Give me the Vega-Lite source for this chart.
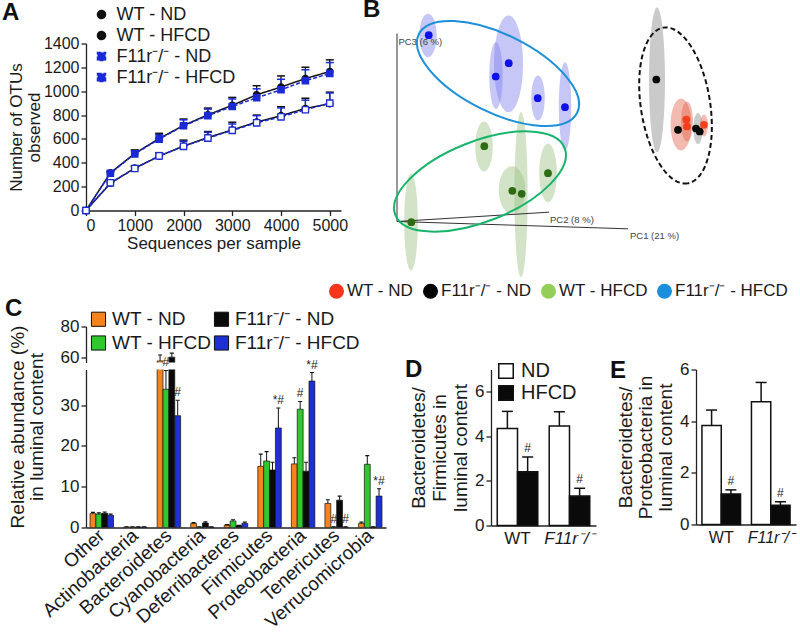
{
  "$schema": "https://vega.github.io/schema/vega-lite/v6.json",
  "padding": {"left": 2, "top": -2.5, "right": 0, "bottom": 0},
  "background": "white",
  "config": {
    "font": "Liberation Sans",
    "view": {"stroke": null},
    "axis": {"domainColor": "#222", "domainWidth": 1.3, "tickColor": "#222", "tickWidth": 1.3, "tickSize": 5, "labelColor": "#1a1a1a", "titleColor": "#1a1a1a", "labelFont": "Liberation Sans", "titleFont": "Liberation Sans", "titleFontWeight": "normal", "grid": false, "labelFontSize": 16, "titleFontSize": 17},
    "legend": {"labelFont": "Liberation Sans", "labelColor": "#1a1a1a", "padding": 0},
    "title": {"font": "Liberation Sans", "color": "#111"}
  },
  "datasets": {
    "otu": [
      {"group": "WT - ND", "seqs": 0, "otus": 0, "top": 0},
      {"group": "WT - ND", "seqs": 500, "otus": 315, "top": 328},
      {"group": "WT - ND", "seqs": 1000, "otus": 478, "top": 508},
      {"group": "WT - ND", "seqs": 1500, "otus": 603, "top": 647},
      {"group": "WT - ND", "seqs": 2000, "otus": 713, "top": 767},
      {"group": "WT - ND", "seqs": 2500, "otus": 802, "top": 859},
      {"group": "WT - ND", "seqs": 3000, "otus": 882, "top": 948},
      {"group": "WT - ND", "seqs": 3500, "otus": 970, "top": 1046},
      {"group": "WT - ND", "seqs": 4000, "otus": 1035, "top": 1128},
      {"group": "WT - ND", "seqs": 4500, "otus": 1106, "top": 1201},
      {"group": "WT - ND", "seqs": 5000, "otus": 1165, "top": 1263},
      {"group": "WT - HFCD", "seqs": 0, "otus": 0, "top": 0},
      {"group": "WT - HFCD", "seqs": 500, "otus": 228, "top": 240},
      {"group": "WT - HFCD", "seqs": 1000, "otus": 355, "top": 372},
      {"group": "WT - HFCD", "seqs": 1500, "otus": 455, "top": 485},
      {"group": "WT - HFCD", "seqs": 2000, "otus": 540, "top": 590},
      {"group": "WT - HFCD", "seqs": 2500, "otus": 612, "top": 662},
      {"group": "WT - HFCD", "seqs": 3000, "otus": 675, "top": 740},
      {"group": "WT - HFCD", "seqs": 3500, "otus": 742, "top": 800},
      {"group": "WT - HFCD", "seqs": 4000, "otus": 795, "top": 870},
      {"group": "WT - HFCD", "seqs": 4500, "otus": 855, "top": 941},
      {"group": "WT - HFCD", "seqs": 5000, "otus": 895, "top": 992},
      {"group": "F11r⁻/⁻ - ND", "seqs": 0, "otus": 0, "top": 0},
      {"group": "F11r⁻/⁻ - ND", "seqs": 500, "otus": 312, "top": 325},
      {"group": "F11r⁻/⁻ - ND", "seqs": 1000, "otus": 475, "top": 500},
      {"group": "F11r⁻/⁻ - ND", "seqs": 1500, "otus": 598, "top": 635},
      {"group": "F11r⁻/⁻ - ND", "seqs": 2000, "otus": 710, "top": 760},
      {"group": "F11r⁻/⁻ - ND", "seqs": 2500, "otus": 795, "top": 850},
      {"group": "F11r⁻/⁻ - ND", "seqs": 3000, "otus": 872, "top": 935},
      {"group": "F11r⁻/⁻ - ND", "seqs": 3500, "otus": 945, "top": 1020},
      {"group": "F11r⁻/⁻ - ND", "seqs": 4000, "otus": 1012, "top": 1100},
      {"group": "F11r⁻/⁻ - ND", "seqs": 4500, "otus": 1088, "top": 1180},
      {"group": "F11r⁻/⁻ - ND", "seqs": 5000, "otus": 1148, "top": 1240},
      {"group": "F11r⁻/⁻ - HFCD", "seqs": 0, "otus": 0, "top": 0},
      {"group": "F11r⁻/⁻ - HFCD", "seqs": 500, "otus": 232, "top": 244},
      {"group": "F11r⁻/⁻ - HFCD", "seqs": 1000, "otus": 352, "top": 368},
      {"group": "F11r⁻/⁻ - HFCD", "seqs": 1500, "otus": 458, "top": 480},
      {"group": "F11r⁻/⁻ - HFCD", "seqs": 2000, "otus": 538, "top": 580},
      {"group": "F11r⁻/⁻ - HFCD", "seqs": 2500, "otus": 607, "top": 655},
      {"group": "F11r⁻/⁻ - HFCD", "seqs": 3000, "otus": 672, "top": 725},
      {"group": "F11r⁻/⁻ - HFCD", "seqs": 3500, "otus": 735, "top": 795},
      {"group": "F11r⁻/⁻ - HFCD", "seqs": 4000, "otus": 785, "top": 860},
      {"group": "F11r⁻/⁻ - HFCD", "seqs": 4500, "otus": 845, "top": 925},
      {"group": "F11r⁻/⁻ - HFCD", "seqs": 5000, "otus": 900, "top": 985}
    ],
    "pcaPoints": [
      {"group": "F11r⁻/⁻ - HFCD", "pc_x": 8.18, "pc_y": 46.58},
      {"group": "F11r⁻/⁻ - HFCD", "pc_x": 28.18, "pc_y": 39.58},
      {"group": "F11r⁻/⁻ - HFCD", "pc_x": 24.93, "pc_y": 36.25},
      {"group": "F11r⁻/⁻ - HFCD", "pc_x": 35.43, "pc_y": 30.83},
      {"group": "F11r⁻/⁻ - HFCD", "pc_x": 42.25, "pc_y": 28.58},
      {"group": "WT - HFCD", "pc_x": 22.08, "pc_y": 18.83},
      {"group": "WT - HFCD", "pc_x": 38.0, "pc_y": 12.08},
      {"group": "WT - HFCD", "pc_x": 29.08, "pc_y": 7.68},
      {"group": "WT - HFCD", "pc_x": 31.43, "pc_y": 6.93},
      {"group": "WT - HFCD", "pc_x": 3.83, "pc_y": -0.18},
      {"group": "F11r⁻/⁻ - ND", "pc_x": 65.08, "pc_y": 35.5},
      {"group": "F11r⁻/⁻ - ND", "pc_x": 70.5, "pc_y": 22.93},
      {"group": "F11r⁻/⁻ - ND", "pc_x": 75.93, "pc_y": 22.5},
      {"group": "F11r⁻/⁻ - ND", "pc_x": 75.0, "pc_y": 23.25},
      {"group": "WT - ND", "pc_x": 72.58, "pc_y": 25.5},
      {"group": "WT - ND", "pc_x": 72.75, "pc_y": 23.75},
      {"group": "WT - ND", "pc_x": 77.0, "pc_y": 24.18}
    ],
    "pcaEll": [
      {"group": "F11r⁻/⁻ - HFCD", "pc_x": 8, "pc_y": 46.5, "spread": 10.85, "aspect": 0.4},
      {"group": "F11r⁻/⁻ - HFCD", "pc_x": 28.13, "pc_y": 39.43, "spread": 24.2, "aspect": 0.3},
      {"group": "F11r⁻/⁻ - HFCD", "pc_x": 25, "pc_y": 36.5, "spread": 16.7, "aspect": 0.2},
      {"group": "F11r⁻/⁻ - HFCD", "pc_x": 35.5, "pc_y": 30.88, "spread": 11.25, "aspect": 0.3},
      {"group": "F11r⁻/⁻ - HFCD", "pc_x": 42.25, "pc_y": 28.75, "spread": 22.1, "aspect": 0.14},
      {"group": "WT - HFCD", "pc_x": 22, "pc_y": 18.75, "spread": 12.5, "aspect": 0.35},
      {"group": "WT - HFCD", "pc_x": 38, "pc_y": 12.13, "spread": 14.6, "aspect": 0.3},
      {"group": "WT - HFCD", "pc_x": 29, "pc_y": 7.88, "spread": 11.9, "aspect": 0.56},
      {"group": "WT - HFCD", "pc_x": 31.25, "pc_y": 6.75, "spread": 41.25, "aspect": 0.08},
      {"group": "WT - HFCD", "pc_x": 3.75, "pc_y": -0.13, "spread": 24.25, "aspect": 0.14},
      {"group": "F11r⁻/⁻ - ND", "pc_x": 65.25, "pc_y": 35.38, "spread": 36.25, "aspect": 0.11},
      {"group": "F11r⁻/⁻ - ND", "pc_x": 75.5, "pc_y": 23.25, "spread": 7.75, "aspect": 0.3},
      {"group": "WT - ND", "pc_x": 71.25, "pc_y": 24.25, "spread": 13, "aspect": 0.4},
      {"group": "WT - ND", "pc_x": 72.75, "pc_y": 25, "spread": 10, "aspect": 0.3},
      {"group": "WT - ND", "pc_x": 77, "pc_y": 24, "spread": 5.5, "aspect": 0.35}
    ],
    "pcaGroups": [
      {"group": "F11r⁻/⁻ - HFCD", "pc_x": 25.5, "pc_y": 37, "major": 44.2, "tilt": 26.4},
      {"group": "WT - HFCD", "pc_x": 21, "pc_y": 10, "major": 45.5, "tilt": 338.35},
      {"group": "ND", "pc_x": 69.88, "pc_y": 29, "major": 39.4, "tilt": 81.2}
    ],
    "pcaAxes": [
      {"axis": "PC3 (6 %)", "x0": 0.25, "y0": 0, "x1": 0.25, "y1": 47, "lx": 0.6, "ly": 45},
      {"axis": "PC2 (8 %)", "x0": 0.25, "y0": 0, "x1": 38.25, "y1": 2.33, "lx": 38.5, "ly": 0.5},
      {"axis": "PC1 (21 %)", "x0": 0.25, "y0": 0, "x1": 58, "y1": -1.83, "lx": 58.5, "ly": -3.5}
    ],
    "phyla": [
      {"phylum": "Other", "group": "WT - ND", "pct": 3.4, "top": 3.7, "sig": ""},
      {"phylum": "Other", "group": "WT - HFCD", "pct": 3.3, "top": 3.6, "sig": ""},
      {"phylum": "Other", "group": "F11r⁻/⁻ - ND", "pct": 3.5, "top": 3.8, "sig": ""},
      {"phylum": "Other", "group": "F11r⁻/⁻ - HFCD", "pct": 3.0, "top": 3.3, "sig": ""},
      {"phylum": "Actinobacteria", "group": "WT - ND", "pct": 0.1, "top": 0.15, "sig": ""},
      {"phylum": "Actinobacteria", "group": "WT - HFCD", "pct": 0.1, "top": 0.15, "sig": ""},
      {"phylum": "Actinobacteria", "group": "F11r⁻/⁻ - ND", "pct": 0.1, "top": 0.15, "sig": ""},
      {"phylum": "Actinobacteria", "group": "F11r⁻/⁻ - HFCD", "pct": 0.1, "top": 0.15, "sig": ""},
      {"phylum": "Bacteroidetes", "group": "WT - ND", "pct": 57.5, "top": 61.4, "sig": ""},
      {"phylum": "Bacteroidetes", "group": "WT - HFCD", "pct": 33.9, "top": 38.5, "sig": "#"},
      {"phylum": "Bacteroidetes", "group": "F11r⁻/⁻ - ND", "pct": 60.0, "top": 62.6, "sig": ""},
      {"phylum": "Bacteroidetes", "group": "F11r⁻/⁻ - HFCD", "pct": 27.4, "top": 31.2, "sig": "#"},
      {"phylum": "Cyanobacteria", "group": "WT - ND", "pct": 1.0, "top": 1.2, "sig": ""},
      {"phylum": "Cyanobacteria", "group": "WT - HFCD", "pct": 0.1, "top": 0.15, "sig": ""},
      {"phylum": "Cyanobacteria", "group": "F11r⁻/⁻ - ND", "pct": 1.1, "top": 1.4, "sig": ""},
      {"phylum": "Cyanobacteria", "group": "F11r⁻/⁻ - HFCD", "pct": 0.1, "top": 0.15, "sig": ""},
      {"phylum": "Deferribacteres", "group": "WT - ND", "pct": 0.6, "top": 0.7, "sig": ""},
      {"phylum": "Deferribacteres", "group": "WT - HFCD", "pct": 1.6, "top": 1.9, "sig": ""},
      {"phylum": "Deferribacteres", "group": "F11r⁻/⁻ - ND", "pct": 0.4, "top": 0.5, "sig": ""},
      {"phylum": "Deferribacteres", "group": "F11r⁻/⁻ - HFCD", "pct": 1.0, "top": 1.3, "sig": ""},
      {"phylum": "Firmicutes", "group": "WT - ND", "pct": 15.0, "top": 18.0, "sig": ""},
      {"phylum": "Firmicutes", "group": "WT - HFCD", "pct": 16.3, "top": 18.6, "sig": ""},
      {"phylum": "Firmicutes", "group": "F11r⁻/⁻ - ND", "pct": 14.1, "top": 16.0, "sig": ""},
      {"phylum": "Firmicutes", "group": "F11r⁻/⁻ - HFCD", "pct": 24.4, "top": 29.3, "sig": "*#"},
      {"phylum": "Proteobacteria", "group": "WT - ND", "pct": 15.6, "top": 17.1, "sig": ""},
      {"phylum": "Proteobacteria", "group": "WT - HFCD", "pct": 29.0, "top": 30.9, "sig": "#"},
      {"phylum": "Proteobacteria", "group": "F11r⁻/⁻ - ND", "pct": 13.8, "top": 16.0, "sig": ""},
      {"phylum": "Proteobacteria", "group": "F11r⁻/⁻ - HFCD", "pct": 35.9, "top": 38.0, "sig": "*#"},
      {"phylum": "Tenericutes", "group": "WT - ND", "pct": 5.9, "top": 6.8, "sig": ""},
      {"phylum": "Tenericutes", "group": "WT - HFCD", "pct": 0.1, "top": 0.15, "sig": "#"},
      {"phylum": "Tenericutes", "group": "F11r⁻/⁻ - ND", "pct": 6.7, "top": 7.7, "sig": ""},
      {"phylum": "Tenericutes", "group": "F11r⁻/⁻ - HFCD", "pct": 0.1, "top": 0.15, "sig": "#"},
      {"phylum": "Verrucomicrobia", "group": "WT - ND", "pct": 1.0, "top": 1.3, "sig": ""},
      {"phylum": "Verrucomicrobia", "group": "WT - HFCD", "pct": 15.5, "top": 17.6, "sig": ""},
      {"phylum": "Verrucomicrobia", "group": "F11r⁻/⁻ - ND", "pct": 0.1, "top": 0.15, "sig": ""},
      {"phylum": "Verrucomicrobia", "group": "F11r⁻/⁻ - HFCD", "pct": 7.7, "top": 9.5, "sig": "*#"}
    ],
    "bf": [
      {"genotype": "WT", "diet": "ND", "ratio": 4.35, "top": 5.12, "sig": ""},
      {"genotype": "WT", "diet": "HFCD", "ratio": 2.41, "top": 3.07, "sig": "#"},
      {"genotype": "F11r⁻/⁻", "diet": "ND", "ratio": 4.46, "top": 5.1, "sig": ""},
      {"genotype": "F11r⁻/⁻", "diet": "HFCD", "ratio": 1.32, "top": 1.67, "sig": "#"}
    ],
    "bp": [
      {"genotype": "WT", "diet": "ND", "ratio": 3.83, "top": 4.43, "sig": ""},
      {"genotype": "WT", "diet": "HFCD", "ratio": 1.18, "top": 1.34, "sig": "#"},
      {"genotype": "F11r⁻/⁻", "diet": "ND", "ratio": 4.75, "top": 5.5, "sig": ""},
      {"genotype": "F11r⁻/⁻", "diet": "HFCD", "ratio": 0.75, "top": 0.88, "sig": "#"}
    ]
  },
  "spacing": -42,
  "resolve": {"scale": {"color": "independent", "fill": "independent", "stroke": "independent", "shape": "independent", "size": "independent", "strokeDash": "independent", "angle": "independent", "x": "independent", "y": "independent", "xOffset": "independent"}, "legend": {"color": "independent", "fill": "independent", "stroke": "independent", "shape": "independent", "size": "independent", "strokeDash": "independent", "angle": "independent"}},
  "vconcat": [
    {
      "bounds": "flush",
      "spacing": 52,
      "resolve": {"scale": {"color": "independent", "fill": "independent", "stroke": "independent", "shape": "independent", "size": "independent", "strokeDash": "independent", "angle": "independent", "x": "independent", "y": "independent"}, "legend": {"color": "independent", "fill": "independent", "stroke": "independent", "shape": "independent", "size": "independent", "strokeDash": "independent", "angle": "independent"}},
      "hconcat": [
        {
          "width": 255,
          "height": 167,
          "data": {"name": "otu"},
          "title": {"text": "A", "anchor": "start", "frame": "group", "dx": -84, "offset": -38, "baseline": "alphabetic", "fontSize": 24, "fontWeight": "bold"},
          "encoding": {
            "x": {"field": "seqs", "type": "quantitative", "scale": {"domain": [0, 5230], "nice": false}, "axis": {"values": [0, 1000, 2000, 3000, 4000, 5000], "format": "d", "title": "Sequences per sample", "titlePadding": 2, "labelPadding": 2}},
            "y": {"field": "otus", "type": "quantitative", "scale": {"domain": [0, 1400], "nice": false}, "axis": {"values": [0, 200, 400, 600, 800, 1000, 1200, 1400], "format": "d", "title": ["Number of OTUs", "observed"], "titlePadding": 0, "titleLineHeight": 18}}
          },
          "layer": [
            {"mark": {"type": "line", "strokeWidth": 1.5},
             "encoding": {
               "color": {"field": "group", "type": "nominal", "scale": {"domain": ["WT - ND", "WT - HFCD", "F11r⁻/⁻ - ND", "F11r⁻/⁻ - HFCD"], "range": ["#111111", "#111111", "#1a2ad6", "#1a2ad6"]},
                 "legend": {"orient": "none", "legendX": 6.5, "legendY": -38, "title": null, "symbolSize": 64, "labelFontSize": 18, "labelOffset": 6, "rowPadding": 3, "symbolStrokeWidth": 1.5,
                   "encode": {"symbols": {"update": {
                     "shape": {"signal": "indexof(['WT - ND','WT - HFCD'], datum.value) >= 0 ? 'M -3 0 L -0.85 0 M 0.85 0 L 3 0 M 0.85 0 C 0.85 0.47 0.47 0.85 0 0.85 C -0.47 0.85 -0.85 0.47 -0.85 0 C -0.85 -0.47 -0.47 -0.85 0 -0.85 C 0.47 -0.85 0.85 -0.47 0.85 0 Z' : 'M -3 0 L -2.5 0 M -2.1 0 L -1.6 0 M -1.2 0 L -0.85 0 M 0.85 0 L 1.2 0 M 1.6 0 L 2.1 0 M 2.5 0 L 3 0 M -0.85 -0.85 L 0.85 -0.85 L 0.85 0.85 L -0.85 0.85 Z'"},
                     "fill": {"signal": "datum.value === 'WT - ND' ? '#111111' : (datum.value === 'F11r⁻/⁻ - ND' ? '#1a2ad6' : '#ffffff')"},
                     "stroke": {"signal": "indexof(['WT - ND','WT - HFCD'], datum.value) >= 0 ? '#111111' : '#1a2ad6'"},
                     "strokeDash": {"value": [1, 0]},
                     "opacity": {"value": 1}
                   }}}}},
               "strokeDash": {"field": "group", "type": "nominal", "scale": {"domain": ["WT - ND", "WT - HFCD", "F11r⁻/⁻ - ND", "F11r⁻/⁻ - HFCD"], "range": [[1, 0], [1, 0], [4, 2], [4, 2]]}, "legend": null}}},
            {"mark": {"type": "rule", "strokeWidth": 1.3}, "encoding": {"y2": {"field": "top"}, "color": {"field": "group", "type": "nominal"}}},
            {"mark": {"type": "tick", "orient": "horizontal", "size": 8, "thickness": 1.5, "opacity": 1}, "encoding": {"y": {"field": "top", "type": "quantitative"}, "color": {"field": "group", "type": "nominal"}}},
            {"mark": {"type": "point", "filled": true, "opacity": 1, "size": 40, "strokeWidth": 1.3},
             "encoding": {
               "shape": {"field": "group", "type": "nominal", "scale": {"domain": ["WT - ND", "WT - HFCD", "F11r⁻/⁻ - ND", "F11r⁻/⁻ - HFCD"], "range": ["circle", "circle", "square", "square"]}, "legend": null},
               "fill": {"field": "group", "type": "nominal", "scale": {"domain": ["WT - ND", "WT - HFCD", "F11r⁻/⁻ - ND", "F11r⁻/⁻ - HFCD"], "range": ["#111111", "#ffffff", "#1a2ad6", "#ffffff"]}, "legend": null},
               "stroke": {"field": "group", "type": "nominal", "scale": {"domain": ["WT - ND", "WT - HFCD", "F11r⁻/⁻ - ND", "F11r⁻/⁻ - HFCD"], "range": ["#111111", "#111111", "#1a2ad6", "#1a2ad6"]}, "legend": null}
             }}
          ]
        },
        {
          "width": 405,
          "height": 227,
          "title": {"text": "B", "anchor": "start", "frame": "group", "dx": -30, "offset": -34, "baseline": "alphabetic", "fontSize": 24, "fontWeight": "bold"},
          "resolve": {"scale": {"fill": "independent", "stroke": "independent"}},
          "layer": [
            {
              "data": {"name": "pcaEll"},
              "mark": {"type": "point", "filled": true, "opacity": 1, "fillOpacity": 0.45, "strokeWidth": 0},
              "encoding": {
                "x": {"field": "pc_x", "type": "quantitative", "scale": {"domain": [-0.75, 100.5], "nice": false, "zero": false}, "axis": null},
                "y": {"field": "pc_y", "type": "quantitative", "scale": {"domain": [-12.25, 44.5], "nice": false, "zero": false}, "axis": null},
                "size": {"field": "spread", "type": "quantitative", "scale": {"type": "pow", "exponent": 2, "domain": [0, 50], "range": [0, 40000]}, "legend": null},
                "shape": {"field": "aspect", "type": "nominal", "scale": {"domain": [0.08, 0.11, 0.14, 0.2, 0.3, 0.35, 0.4, 0.56], "range": [
                  "M 0 -1 C 0.044 -1 0.08 -0.552 0.08 0 C 0.08 0.552 0.044 1 0 1 C -0.044 1 -0.08 0.552 -0.08 0 C -0.08 -0.552 -0.044 -1 0 -1 Z",
                  "M 0 -1 C 0.061 -1 0.11 -0.552 0.11 0 C 0.11 0.552 0.061 1 0 1 C -0.061 1 -0.11 0.552 -0.11 0 C -0.11 -0.552 -0.061 -1 0 -1 Z",
                  "M 0 -1 C 0.077 -1 0.14 -0.552 0.14 0 C 0.14 0.552 0.077 1 0 1 C -0.077 1 -0.14 0.552 -0.14 0 C -0.14 -0.552 -0.077 -1 0 -1 Z",
                  "M 0 -1 C 0.11 -1 0.2 -0.552 0.2 0 C 0.2 0.552 0.11 1 0 1 C -0.11 1 -0.2 0.552 -0.2 0 C -0.2 -0.552 -0.11 -1 0 -1 Z",
                  "M 0 -1 C 0.166 -1 0.3 -0.552 0.3 0 C 0.3 0.552 0.166 1 0 1 C -0.166 1 -0.3 0.552 -0.3 0 C -0.3 -0.552 -0.166 -1 0 -1 Z",
                  "M 0 -1 C 0.193 -1 0.35 -0.552 0.35 0 C 0.35 0.552 0.193 1 0 1 C -0.193 1 -0.35 0.552 -0.35 0 C -0.35 -0.552 -0.193 -1 0 -1 Z",
                  "M 0 -1 C 0.221 -1 0.4 -0.552 0.4 0 C 0.4 0.552 0.221 1 0 1 C -0.221 1 -0.4 0.552 -0.4 0 C -0.4 -0.552 -0.221 -1 0 -1 Z",
                  "M 0 -1 C 0.309 -1 0.56 -0.552 0.56 0 C 0.56 0.552 0.309 1 0 1 C -0.309 1 -0.56 0.552 -0.56 0 C -0.56 -0.552 -0.309 -1 0 -1 Z"
                ]}, "legend": null},
                "fill": {"field": "group", "type": "nominal", "scale": {"domain": ["WT - ND", "F11r⁻/⁻ - ND", "WT - HFCD", "F11r⁻/⁻ - HFCD"], "range": ["#e2674f", "#8a8a8a", "#9cc283", "#8080ee"]}, "legend": null}
              }
            },
            {
              "data": {"name": "pcaAxes"},
              "mark": {"type": "rule", "color": "#333333", "strokeWidth": 1},
              "encoding": {
                "x": {"field": "x0", "type": "quantitative", "axis": null},
                "y": {"field": "y0", "type": "quantitative", "axis": null},
                "x2": {"field": "x1"},
                "y2": {"field": "y1"}
              }
            },
            {
              "data": {"name": "pcaAxes"},
              "mark": {"type": "text", "align": "left", "baseline": "middle", "fontSize": 9.5, "color": "#444444"},
              "encoding": {
                "x": {"field": "lx", "type": "quantitative", "axis": null},
                "y": {"field": "ly", "type": "quantitative", "axis": null},
                "text": {"field": "axis"}
              }
            },
            {
              "data": {"name": "pcaGroups"},
              "transform": [{"filter": "datum.group != 'ND'"}],
              "mark": {"type": "point", "filled": false, "opacity": 1, "strokeWidth": 2, "shape": "M 1 0 C 1 0.243 0.552 0.44 0 0.44 C -0.552 0.44 -1 0.243 -1 0 C -1 -0.243 -0.552 -0.44 0 -0.44 C 0.552 -0.44 1 -0.243 1 0 Z"},
              "encoding": {
                "x": {"field": "pc_x", "type": "quantitative", "axis": null},
                "y": {"field": "pc_y", "type": "quantitative", "axis": null},
                "size": {"field": "major", "type": "quantitative", "legend": null},
                "angle": {"field": "tilt", "type": "quantitative", "scale": {"domain": [0, 360], "range": [0, 360]}, "legend": null},
                "stroke": {"field": "group", "type": "nominal", "scale": {"domain": ["F11r⁻/⁻ - HFCD", "WT - HFCD"], "range": ["#1b8fd8", "#19b46c"]}, "legend": null}
              }
            },
            {
              "data": {"name": "pcaGroups"},
              "transform": [{"filter": "datum.group == 'ND'"}],
              "mark": {"type": "point", "filled": false, "opacity": 1, "strokeWidth": 2, "color": "#111111", "strokeDash": [5, 3], "shape": "M 1 0 C 1 0.243 0.552 0.44 0 0.44 C -0.552 0.44 -1 0.243 -1 0 C -1 -0.243 -0.552 -0.44 0 -0.44 C 0.552 -0.44 1 -0.243 1 0 Z"},
              "encoding": {
                "x": {"field": "pc_x", "type": "quantitative", "axis": null},
                "y": {"field": "pc_y", "type": "quantitative", "axis": null},
                "size": {"field": "major", "type": "quantitative", "legend": null},
                "angle": {"field": "tilt", "type": "quantitative", "legend": null}
              }
            },
            {
              "data": {"name": "pcaPoints"},
              "mark": {"type": "point", "filled": true, "opacity": 1, "size": 20},
              "encoding": {
                "x": {"field": "pc_x", "type": "quantitative", "axis": null},
                "y": {"field": "pc_y", "type": "quantitative", "axis": null},
                "color": {"field": "group", "type": "nominal", "scale": {"domain": ["WT - ND", "F11r⁻/⁻ - ND", "WT - HFCD", "F11r⁻/⁻ - HFCD"], "range": ["#f5351c", "#000000", "#93cf58", "#1b8edc"]},
                  "legend": {"orient": "none", "legendX": -65, "legendY": 239, "direction": "horizontal", "title": null, "symbolType": "circle", "symbolSize": 225, "labelFontSize": 17, "labelOffset": 2, "columnPadding": 8, "encode": {"symbols": {"update": {"opacity": {"value": 1}, "size": {"value": 225}}}}}}
              }
            },
            {
              "data": {"name": "pcaPoints"},
              "mark": {"type": "point", "filled": true, "opacity": 1, "size": 60},
              "encoding": {
                "x": {"field": "pc_x", "type": "quantitative", "axis": null},
                "y": {"field": "pc_y", "type": "quantitative", "axis": null},
                "fill": {"field": "group", "type": "nominal", "scale": {"domain": ["WT - ND", "F11r⁻/⁻ - ND", "WT - HFCD", "F11r⁻/⁻ - HFCD"], "range": ["#f0401e", "#050505", "#2e6b12", "#0d12e8"]}, "legend": null}
              }
            }
          ]
        }
      ]
    },
    {
      "columns": 5,
      "bounds": "flush",
      "spacing": 0,
      "resolve": {"scale": {"color": "independent", "fill": "independent", "x": "independent", "y": "independent", "xOffset": "independent"}, "legend": {"color": "independent", "fill": "independent"}},
      "concat": [
        {
          "width": 300,
          "height": 36,
          "data": {"name": "phyla"},
          "title": {"text": "C", "anchor": "start", "frame": "group", "dx": -81, "offset": -30, "baseline": "alphabetic", "fontSize": 24, "fontWeight": "bold"},
          "encoding": {
            "x": {"field": "phylum", "type": "nominal", "sort": ["Other", "Actinobacteria", "Bacteroidetes", "Cyanobacteria", "Deferribacteres", "Firmicutes", "Proteobacteria", "Tenericutes", "Verrucomicrobia"], "scale": {"paddingInner": 0.3, "paddingOuter": 0.12}, "axis": null},
            "xOffset": {"field": "group", "type": "nominal", "sort": ["WT - ND", "WT - HFCD", "F11r⁻/⁻ - ND", "F11r⁻/⁻ - HFCD"]},
            "y": {"field": "pct", "type": "quantitative", "scale": {"domain": [56.5, 80], "nice": false, "zero": false}, "axis": {"values": [60, 80], "title": null, "labelFontSize": 17}}
          },
          "layer": [
            {"mark": {"type": "bar", "clip": true, "stroke": "#111111", "strokeWidth": 0.7},
             "encoding": {"color": {"field": "group", "type": "nominal", "scale": {"domain": ["WT - ND", "WT - HFCD", "F11r⁻/⁻ - ND", "F11r⁻/⁻ - HFCD"], "range": ["#f5841f", "#2fc92f", "#0a0a0a", "#1f2fd6"]},
               "legend": {"orient": "none", "legendX": 3, "legendY": -17, "title": null, "columns": 2, "symbolType": "square", "symbolSize": 200, "symbolStrokeColor": "#111111", "symbolStrokeWidth": 1, "labelFontSize": 19, "columnPadding": 0, "rowPadding": 4, "labelOffset": 4}}}},
            {"mark": {"type": "rule", "clip": true, "strokeWidth": 1, "color": "#111111"}, "encoding": {"y2": {"field": "top"}}},
            {"mark": {"type": "tick", "clip": true, "orient": "horizontal", "size": 4, "thickness": 1.2, "color": "#111111", "opacity": 1}, "encoding": {"y": {"field": "top", "type": "quantitative"}}}
          ]
        },
        {"width": 105, "height": 1, "data": {"values": []}, "mark": "point", "encoding": {}},
        {"width": 105, "height": 1, "data": {"values": []}, "mark": "point", "encoding": {}},
        {"width": 100, "height": 1, "data": {"values": []}, "mark": "point", "encoding": {}},
        {"width": 100, "height": 1, "data": {"values": []}, "mark": "point", "encoding": {}},

        {"width": 1, "height": 7, "data": {"values": []}, "mark": "point", "encoding": {}},
        {"width": 1, "height": 1, "data": {"values": []}, "mark": "point", "encoding": {}},
        {"width": 1, "height": 1, "data": {"values": []}, "mark": "point", "encoding": {}},
        {"width": 1, "height": 1, "data": {"values": []}, "mark": "point", "encoding": {}},
        {"width": 1, "height": 1, "data": {"values": []}, "mark": "point", "encoding": {}},

        {
          "width": 300,
          "height": 158,
          "data": {"name": "phyla"},
          "encoding": {
            "x": {"field": "phylum", "type": "nominal", "sort": ["Other", "Actinobacteria", "Bacteroidetes", "Cyanobacteria", "Deferribacteres", "Firmicutes", "Proteobacteria", "Tenericutes", "Verrucomicrobia"], "scale": {"paddingInner": 0.3, "paddingOuter": 0.12}, "axis": {"title": null, "labelAngle": -42, "labelAlign": "right", "labelBaseline": "middle", "labelFontSize": 19, "ticks": false, "labelPadding": 5}},
            "xOffset": {"field": "group", "type": "nominal", "sort": ["WT - ND", "WT - HFCD", "F11r⁻/⁻ - ND", "F11r⁻/⁻ - HFCD"]},
            "y": {"field": "pct", "type": "quantitative", "scale": {"domain": [0, 38.74], "nice": false}, "axis": {"values": [0, 10, 20, 30], "title": ["Relative abundance (%)", "in luminal content"], "titleFontSize": 19, "titleLineHeight": 19, "labelFontSize": 17, "titlePadding": 14, "titleY": 57}}
          },
          "layer": [
            {"mark": {"type": "bar", "clip": true, "stroke": "#111111", "strokeWidth": 0.7},
             "encoding": {"color": {"field": "group", "type": "nominal", "scale": {"domain": ["WT - ND", "WT - HFCD", "F11r⁻/⁻ - ND", "F11r⁻/⁻ - HFCD"], "range": ["#f5841f", "#2fc92f", "#0a0a0a", "#1f2fd6"]}, "legend": null}}},
            {"mark": {"type": "rule", "clip": true, "strokeWidth": 1, "color": "#111111"}, "encoding": {"y2": {"field": "top"}}},
            {"mark": {"type": "tick", "clip": true, "orient": "horizontal", "size": 4, "thickness": 1.2, "color": "#111111", "opacity": 1}, "encoding": {"y": {"field": "top", "type": "quantitative"}}},
            {"mark": {"type": "text", "baseline": "bottom", "dy": -1, "fontSize": 12, "color": "#222222"}, "encoding": {"y": {"field": "top", "type": "quantitative"}, "text": {"field": "sig"}}}
          ]
        },
        {"width": 105, "height": 1, "data": {"values": []}, "mark": "point", "encoding": {}},
        {
          "width": 105,
          "height": 156,
          "data": {"name": "bf"},
          "title": {"text": "D", "anchor": "start", "frame": "group", "dx": -86, "offset": -40, "baseline": "alphabetic", "fontSize": 24, "fontWeight": "bold"},
          "encoding": {
            "x": {"field": "genotype", "type": "nominal", "sort": ["WT", "F11r⁻/⁻"], "scale": {"paddingInner": 0.22, "paddingOuter": 0.12}, "axis": {"title": null, "labelAngle": 0, "ticks": false, "labelFontSize": 17, "labelPadding": 5, "labelFontStyle": {"condition": {"test": "datum.value !== 'WT'", "value": "italic"}, "value": "normal"}}},
            "xOffset": {"field": "diet", "type": "nominal", "sort": ["ND", "HFCD"]},
            "y": {"field": "ratio", "type": "quantitative", "scale": {"domain": [0, 7], "nice": false}, "axis": {"values": [0, 2, 4, 6], "title": ["Bacteroidetes/", "Firmicutes in", "luminal content"], "titleFontSize": 19, "titleLineHeight": 21, "labelFontSize": 17, "titlePadding": 4}}
          },
          "layer": [
            {"mark": {"type": "bar", "stroke": "#111111", "strokeWidth": 1.5},
             "encoding": {"fill": {"field": "diet", "type": "nominal", "scale": {"domain": ["ND", "HFCD"], "range": ["#ffffff", "#0a0a0a"]},
               "legend": {"orient": "none", "legendX": 5, "legendY": -8.5, "title": null, "symbolType": "square", "symbolSize": 210, "labelFontSize": 20, "rowPadding": 0, "labelOffset": 5, "symbolStrokeColor": "#111111", "symbolStrokeWidth": 1.5}}}},
            {"mark": {"type": "rule", "strokeWidth": 1.5, "color": "#111111"}, "encoding": {"y2": {"field": "top"}}},
            {"mark": {"type": "tick", "orient": "horizontal", "size": 11, "thickness": 1.5, "color": "#111111", "opacity": 1}, "encoding": {"y": {"field": "top", "type": "quantitative"}}},
            {"mark": {"type": "text", "baseline": "bottom", "dy": -2, "fontSize": 12, "color": "#222222"}, "encoding": {"y": {"field": "top", "type": "quantitative"}, "text": {"field": "sig"}}}
          ]
        },
        {"width": 100, "height": 1, "data": {"values": []}, "mark": "point", "encoding": {}},
        {
          "width": 100,
          "height": 155,
          "data": {"name": "bp"},
          "title": {"text": "E", "anchor": "start", "frame": "group", "dx": -86, "offset": -41.5, "baseline": "alphabetic", "fontSize": 24, "fontWeight": "bold"},
          "encoding": {
            "x": {"field": "genotype", "type": "nominal", "sort": ["WT", "F11r⁻/⁻"], "scale": {"paddingInner": 0.22, "paddingOuter": 0.12}, "axis": {"title": null, "labelAngle": 0, "ticks": false, "labelFontSize": 16, "labelPadding": 5, "labelFontStyle": {"condition": {"test": "datum.value !== 'WT'", "value": "italic"}, "value": "normal"}}},
            "xOffset": {"field": "diet", "type": "nominal", "sort": ["ND", "HFCD"]},
            "y": {"field": "ratio", "type": "quantitative", "scale": {"domain": [0, 6], "nice": false}, "axis": {"values": [0, 2, 4, 6], "title": ["Bacteroidetes/", "Proteobacteria in", "luminal content"], "titleFontSize": 19, "titleLineHeight": 20, "labelFontSize": 17, "titlePadding": 4}}
          },
          "layer": [
            {"mark": {"type": "bar", "stroke": "#111111", "strokeWidth": 1.5},
             "encoding": {"fill": {"field": "diet", "type": "nominal", "scale": {"domain": ["ND", "HFCD"], "range": ["#ffffff", "#0a0a0a"]}, "legend": null}}},
            {"mark": {"type": "rule", "strokeWidth": 1.5, "color": "#111111"}, "encoding": {"y2": {"field": "top"}}},
            {"mark": {"type": "tick", "orient": "horizontal", "size": 11, "thickness": 1.5, "color": "#111111", "opacity": 1}, "encoding": {"y": {"field": "top", "type": "quantitative"}}},
            {"mark": {"type": "text", "baseline": "bottom", "dy": -2, "fontSize": 12, "color": "#222222"}, "encoding": {"y": {"field": "top", "type": "quantitative"}, "text": {"field": "sig"}}}
          ]
        }
      ]
    }
  ]
}
